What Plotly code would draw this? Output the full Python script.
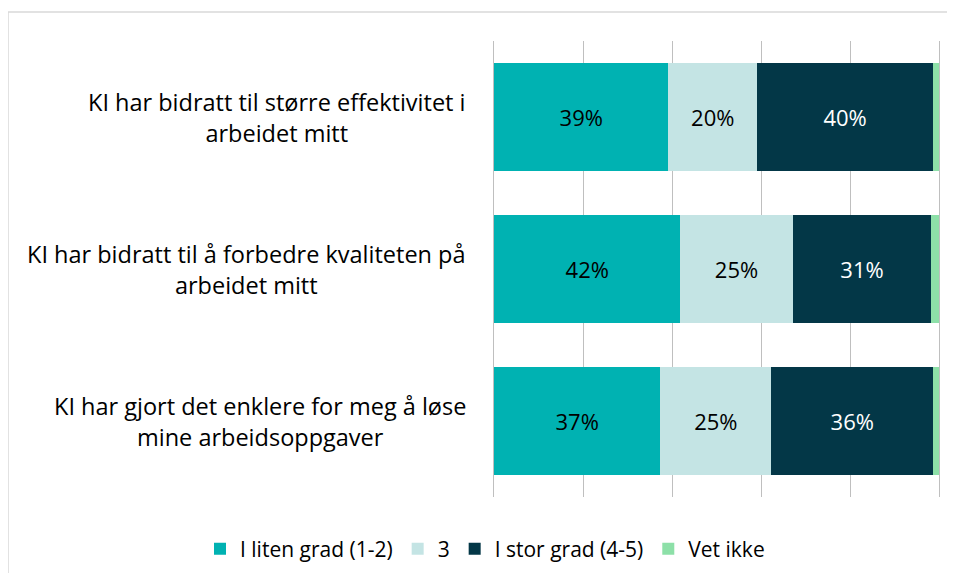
import plotly.graph_objects as go

categories = [
    "KI har bidratt til større effektivitet i<br>arbeidet mitt",
    "KI har bidratt til å forbedre kvaliteten på<br>arbeidet mitt",
    "KI har gjort det enklere for meg å løse<br>mine arbeidsoppgaver",
]
series_names = ["I liten grad (1-2)", "3", "I stor grad (4-5)", "Vet ikke"]
liten = [39.2, 41.9, 37.4]
tre = [19.9, 25.2, 24.9]
stor = [39.6, 31.2, 36.4]
vet_ikke = [1.3, 1.7, 1.3]

series_values = [liten, tre, stor, vet_ikke]
colors = ["#00B2B2", "#C4E4E4", "#033747", "#8DE0A8"]
text_colors = ["#000000", "#000000", "#FFFFFF", "#000000"]
show_text = [True, True, True, False]

FONT = "Open Sans"
W, H = 939, 565  # page has an 8px body margin

fig = go.Figure()
for name, vals, col, tc, st in zip(series_names, series_values, colors, text_colors, show_text):
    fig.add_trace(go.Bar(
        y=categories, x=vals, name=name, orientation="h",
        marker=dict(color=col, line=dict(width=0)),
        texttemplate="%{x:.0f}%" if st else None,
        textposition="inside" if st else "none",
        insidetextanchor="middle",
        textfont=dict(color=tc, size=22, family=FONT),
        hoverinfo="skip",
    ))

for i, c in enumerate(categories):
    fig.add_annotation(
        x=-0.058, xref="paper", y=i, yref="y", text=c,
        xanchor="right", yanchor="middle", align="center",
        showarrow=False, font=dict(size=23.5, color="#000000", family=FONT),
    )

fig.add_shape(type="rect", xref="paper", yref="paper",
              x0=(8 - 494) / 445, x1=1.3, y0=-0.5, y1=(497 - 12) / 456,
              line=dict(color="#D9D9D9", width=1.5), fillcolor="rgba(0,0,0,0)", layer="below")

fig.update_layout(
    barmode="stack",
    bargap=0.283,
    width=W, height=H,
    margin=dict(l=486, r=8, t=33, b=76, autoexpand=False),
    paper_bgcolor="white", plot_bgcolor="white",
    font=dict(family=FONT, size=20, color="#000000"),
    showlegend=True,
    legend=dict(orientation="h", x=(200 - 494) / 445, xanchor="left",
                y=(497 - 549) / 456, yanchor="middle",
                font=dict(size=21, family=FONT), traceorder="normal", itemwidth=30),
    uniformtext=dict(mode="show", minsize=10),
)
fig.update_xaxes(range=[0, 100], dtick=20, showticklabels=False, showgrid=True,
                 gridcolor="#BFBFBF", gridwidth=1, zeroline=False, showline=False, fixedrange=True)
fig.update_yaxes(autorange="reversed", showticklabels=False, showgrid=False,
                 showline=True, mirror=True, linecolor="#BFBFBF", linewidth=1, fixedrange=True)

fig.write_html("out.html")
